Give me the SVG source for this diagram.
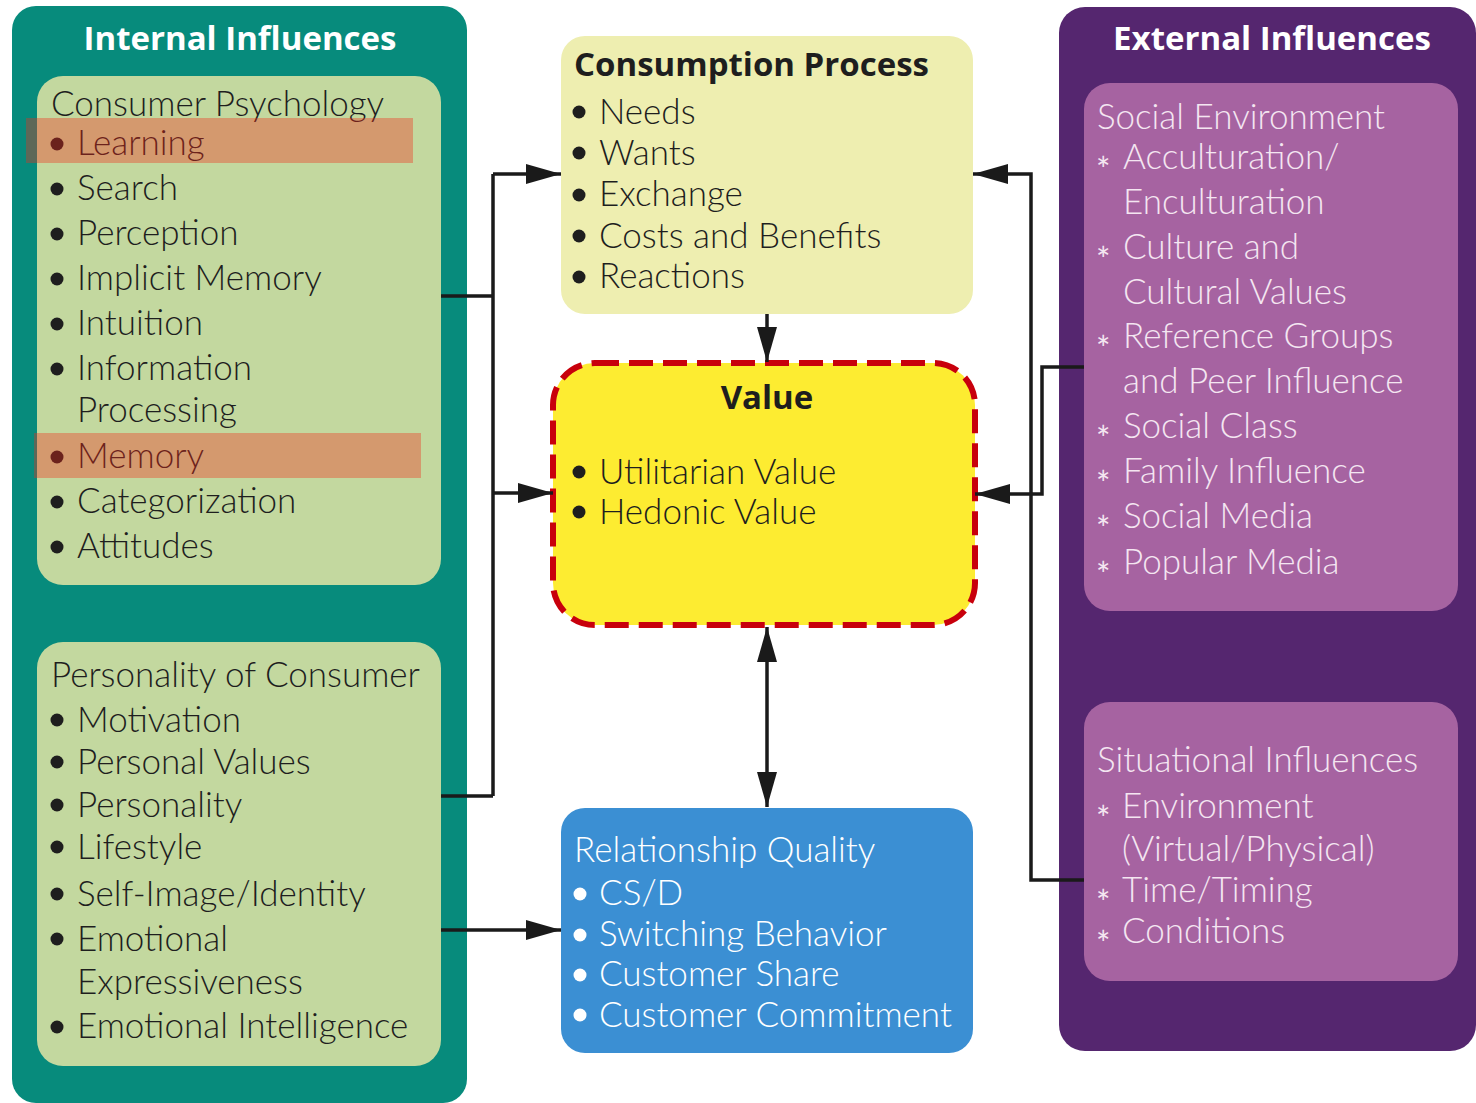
<svg xmlns="http://www.w3.org/2000/svg" width="1476" height="1103" viewBox="0 0 1476 1103">
<defs>
<style>
.t{font-family:Lato,"Open Sans","Liberation Sans",sans-serif;font-weight:300;font-size:35px;}
.h{font-family:"Open Sans",Lato,"Liberation Sans",sans-serif;font-weight:700;}
.ast{font-family:Lato,"Open Sans","Liberation Sans",sans-serif;font-weight:400;font-size:34px;}
.dk{fill:#1e1e1e;}
.wt{fill:#ffffff;}
.pk{fill:#f4e6f1;}
.ln{fill:none;stroke:#1a1a1a;stroke-width:3.5;}
.hl{fill:#f52a18;opacity:0.36;}
</style>
<marker id="ah" markerUnits="userSpaceOnUse" markerWidth="36" markerHeight="22" viewBox="0 0 36 22" refX="35" refY="11" orient="auto-start-reverse">
<path d="M0,1 L35,11 L0,21 z" fill="#1a1a1a"/>
</marker>
</defs>
<rect width="1476" height="1103" fill="#ffffff"/>

<g id="internal">
<rect x="12" y="6" width="455" height="1097" rx="24" fill="#078b7c"/>
<text class="h wt" x="240" y="50" font-size="33" text-anchor="middle">Internal Influences</text>
</g>

<g id="consumer-psychology">
<rect x="37" y="76" width="404" height="509" rx="26" fill="#c3d89f"/>
<text class="t dk" x="51" y="116">Consumer Psychology</text>
<g class="dk">
<circle cx="57" cy="144" r="6.5"/><circle cx="57" cy="189" r="6.5"/><circle cx="57" cy="234" r="6.5"/><circle cx="57" cy="279" r="6.5"/><circle cx="57" cy="324" r="6.5"/><circle cx="57" cy="369" r="6.5"/><circle cx="57" cy="457" r="6.5"/><circle cx="57" cy="502" r="6.5"/><circle cx="57" cy="547" r="6.5"/>
</g>
<text class="t dk" x="77" y="155">Learning</text>
<text class="t dk" x="77" y="200">Search</text>
<text class="t dk" x="77" y="245">Perception</text>
<text class="t dk" x="77" y="290">Implicit Memory</text>
<text class="t dk" x="77" y="335">Intuition</text>
<text class="t dk" x="77" y="380">Information</text>
<text class="t dk" x="77" y="422">Processing</text>
<text class="t dk" x="77" y="468">Memory</text>
<text class="t dk" x="77" y="513">Categorization</text>
<text class="t dk" x="77" y="558">Attitudes</text>
<rect class="hl" x="26" y="118" width="387" height="45"/>
<rect class="hl" x="34" y="433" width="387" height="45"/>
</g>

<g id="personality">
<rect x="37" y="642" width="404" height="424" rx="26" fill="#c3d89f"/>
<text class="t dk" x="51" y="687">Personality of Consumer</text>
<g class="dk">
<circle cx="57" cy="720" r="6.5"/><circle cx="57" cy="762" r="6.5"/><circle cx="57" cy="805" r="6.5"/><circle cx="57" cy="847" r="6.5"/><circle cx="57" cy="894" r="6.5"/><circle cx="57" cy="939" r="6.5"/><circle cx="57" cy="1027" r="6.5"/>
</g>
<text class="t dk" x="77" y="732">Motivation</text>
<text class="t dk" x="77" y="774">Personal Values</text>
<text class="t dk" x="77" y="817">Personality</text>
<text class="t dk" x="77" y="859">Lifestyle</text>
<text class="t dk" x="77" y="906">Self-Image/Identity</text>
<text class="t dk" x="77" y="951">Emotional</text>
<text class="t dk" x="77" y="994">Expressiveness</text>
<text class="t dk" x="77" y="1038">Emotional Intelligence</text>
</g>

<g id="consumption-process">
<rect x="561" y="36" width="412" height="278" rx="24" fill="#eeeeb0"/>
<text class="h dk" x="574" y="76" font-size="33">Consumption Process</text>
<g class="dk">
<circle cx="579" cy="112" r="6.5"/><circle cx="579" cy="153" r="6.5"/><circle cx="579" cy="195" r="6.5"/><circle cx="579" cy="236" r="6.5"/><circle cx="579" cy="277" r="6.5"/>
</g>
<text class="t dk" x="599" y="124">Needs</text>
<text class="t dk" x="599" y="165">Wants</text>
<text class="t dk" x="599" y="206">Exchange</text>
<text class="t dk" x="599" y="248">Costs and Benefits</text>
<text class="t dk" x="599" y="288">Reactions</text>
</g>

<g id="value">
<rect x="553" y="363" width="422" height="262" rx="42" fill="#fdec31" stroke="#c8000c" stroke-width="6" stroke-dasharray="24 10"/>
<text class="h dk" x="767" y="409" font-size="33" text-anchor="middle">Value</text>
<g class="dk"><circle cx="579" cy="472" r="6.5"/><circle cx="579" cy="512" r="6.5"/></g>
<text class="t dk" x="599" y="484">Utilitarian Value</text>
<text class="t dk" x="599" y="524">Hedonic Value</text>
</g>

<g id="relationship-quality">
<rect x="561" y="808" width="412" height="245" rx="24" fill="#3b8fd3"/>
<text class="t wt" x="574" y="862">Relationship Quality</text>
<g class="wt"><circle cx="580" cy="894" r="6.5"/><circle cx="580" cy="935" r="6.5"/><circle cx="580" cy="975" r="6.5"/><circle cx="580" cy="1015" r="6.5"/></g>
<text class="t wt" x="599" y="905">CS/D</text>
<text class="t wt" x="599" y="946">Switching Behavior</text>
<text class="t wt" x="599" y="986">Customer Share</text>
<text class="t wt" x="599" y="1027">Customer Commitment</text>
</g>

<g id="external">
<rect x="1059" y="7" width="417" height="1044" rx="26" fill="#55266f"/>
<text class="h wt" x="1272" y="50" font-size="33" text-anchor="middle">External Influences</text>
</g>

<g id="social-environment">
<rect x="1084" y="83" width="374" height="528" rx="26" fill="#a663a1"/>
<text class="t pk" x="1097" y="129">Social Environment</text>
<g class="ast pk">
<text x="1096" y="182">*</text><text x="1096" y="272">*</text><text x="1096" y="361">*</text><text x="1096" y="451">*</text><text x="1096" y="496">*</text><text x="1096" y="541">*</text><text x="1096" y="587">*</text>
</g>
<text class="t pk" x="1123" y="169">Acculturation/</text>
<text class="t pk" x="1123" y="214">Enculturation</text>
<text class="t pk" x="1123" y="259">Culture and</text>
<text class="t pk" x="1123" y="304">Cultural Values</text>
<text class="t pk" x="1123" y="348">Reference Groups</text>
<text class="t pk" x="1123" y="393">and Peer Influence</text>
<text class="t pk" x="1123" y="438">Social Class</text>
<text class="t pk" x="1123" y="483">Family Influence</text>
<text class="t pk" x="1123" y="528">Social Media</text>
<text class="t pk" x="1123" y="574">Popular Media</text>
</g>

<g id="situational">
<rect x="1084" y="702" width="374" height="279" rx="26" fill="#a663a1"/>
<text class="t pk" x="1097" y="772">Situational Influences</text>
<g class="ast pk">
<text x="1096" y="831">*</text><text x="1096" y="915">*</text><text x="1096" y="956">*</text>
</g>
<text class="t pk" x="1122" y="818">Environment</text>
<text class="t pk" x="1122" y="861">(Virtual/Physical)</text>
<text class="t pk" x="1122" y="902">Time/Timing</text>
<text class="t pk" x="1122" y="943">Conditions</text>
</g>

<g id="connectors">
<path class="ln" d="M441,296 H493 M441,796 H493 M493,174 V796"/>
<path class="ln" d="M493,174 H561" marker-end="url(#ah)"/>
<path class="ln" d="M493,493 H553" marker-end="url(#ah)"/>
<path class="ln" d="M441,930 H561" marker-end="url(#ah)"/>
<path class="ln" d="M767,314 V362" marker-end="url(#ah)"/>
<path class="ln" d="M767,627 V807" marker-start="url(#ah)" marker-end="url(#ah)"/>
<path class="ln" d="M1084,880 H1031 V174 H973" marker-end="url(#ah)"/>
<path class="ln" d="M1084,367 H1042 V494 H975" marker-end="url(#ah)"/>
</g>
</svg>
